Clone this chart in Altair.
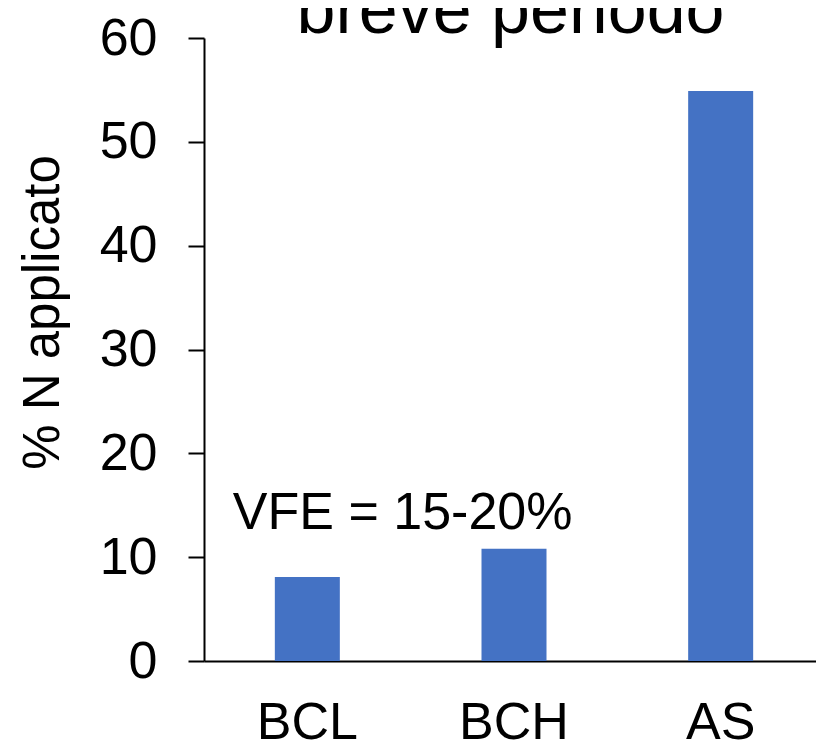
import altair as alt
import pandas as pd

categories = ["BCL", "BCH", "AS"]
values = [8.1, 10.8, 54.9]
y_ticks = [0, 10, 20, 30, 40, 50, 60]
note_text = ["VFE = 15-20%"]
note_cat = ["BCL"]
note_y = [12.7]
title_text = ["breve periodo"]

FONT = "Liberation Sans"

bars_df = pd.DataFrame({"cat": categories, "val": values})
note_df = pd.DataFrame({"cat": note_cat, "val": note_y, "label": note_text})
title_df = pd.DataFrame({"label": title_text})

xscale = alt.Scale(domain=categories, paddingInner=0, paddingOuter=0, range=[0, 620])
yscale = alt.Scale(domain=[0, 60], nice=False)

bars = alt.Chart(bars_df).mark_bar(size=65, color="#4472C4").encode(
    x=alt.X("cat:N", scale=xscale, sort=categories,
            axis=alt.Axis(title=None, labelAngle=0, ticks=False, domainColor="black",
                          domainWidth=2, labelFont=FONT, labelFontSize=52,
                          labelColor="black", labelBaseline="alphabetic",
                          labelPadding=77, grid=False)),
    y=alt.Y("val:Q", scale=yscale,
            axis=alt.Axis(title="% N applicato", values=y_ticks, grid=False,
                          domainColor="black", domainWidth=2, tickColor="black",
                          tickWidth=2, tickSize=16, labelFont=FONT, labelFontSize=52,
                          labelColor="black", labelPadding=31,
                          titleFont=FONT, titleFontSize=51, titleFontWeight="normal",
                          titleColor="black", titleAngle=-90, titleX=-146,
                          titleY=274, titleAlign="center", titleBaseline="alphabetic")),
)

note = alt.Chart(note_df).mark_text(font=FONT, fontSize=52, color="black",
                                     align="center", baseline="alphabetic", dx=-8).encode(
    x=alt.X("cat:N", scale=xscale, sort=categories, bandPosition=1),
    y=alt.Y("val:Q", scale=yscale),
    text="label:N",
)

title = alt.Chart(title_df).mark_text(font=FONT, fontSize=70, color="black",
                                       align="center", baseline="alphabetic").encode(
    x=alt.value(306.5),
    y=alt.value(-5),
    text="label:N",
)

chart = alt.layer(bars, note, title).properties(
    width=612,
    height=623,
    padding={"left": 196, "top": 30, "right": 0, "bottom": 82},
    autosize=alt.AutoSizeParams(type="none"),
).configure_view(stroke=None)

chart.save("out.html", embed_options={"renderer": "svg", "actions": False})
